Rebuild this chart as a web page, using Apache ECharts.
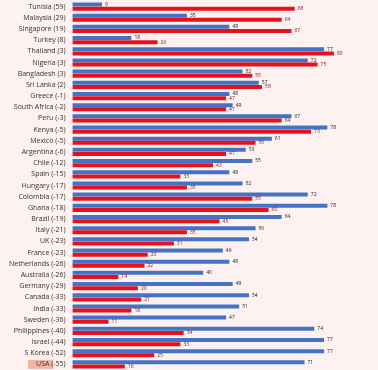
<!DOCTYPE html>
<html><head><meta charset="utf-8">
<script src="https://cdn.jsdelivr.net/npm/echarts@6/dist/echarts.min.js"></script>
<style>html,body{margin:0;padding:0;background:#fdf1f1;}#c{width:378px;height:370px;}</style>
</head><body><div id="c"></div>
<script>
const categories = ["Tunisia (59)","Malaysia (29)","Singapore (19)","Turkey (8)","Thailand (3)","Nigeria (3)","Bangladesh (3)","Sri Lanka (2)","Greece (-1)","South Africa (-2)","Peru (-3)","Kenya (-5)","Mexico (-5)","Argentina (-6)","Chile (-12)","Spain (-15)","Hungary (-17)","Colombia (-17)","Ghana (-18)","Brazil (-19)","Italy (-21)","UK (-23)","France (-23)","Netherlands (-26)","Australia (-26)","Germany (-29)","Canada (-33)","India (-33)","Sweden (-36)","Philippines (-40)","Israel (-44)","S Korea (-52)","USA (-55)"];
const blueValues = [9,35,48,18,77,72,52,57,48,49,67,78,61,53,55,48,52,72,78,64,56,54,46,48,40,49,54,51,47,74,77,77,71];
const redValues = [68,64,67,26,80,75,55,58,47,47,64,73,56,47,43,33,35,55,60,45,35,31,23,22,14,20,21,18,11,34,33,25,16];

const chart = echarts.init(document.getElementById('c'));
chart.setOption({
  backgroundColor: '#fdf1f1',
  animation: false,
  grid: {left: 72.6, right: 0, top: 1, bottom: 0},
  xAxis: {type: 'value', min: 0, max: 93.5, show: false},
  yAxis: {
    type: 'category', data: categories, inverse: true,
    axisLine: {show: false}, axisTick: {show: false},
    axisLabel: {
      margin: 7, fontSize: 7, color: '#333', fontFamily: 'Open Sans',
      formatter: function (v) {
        if (v.indexOf('USA') === 0) return '{hl|USA (}{n|' + v.slice(5) + '}';
        return v;
      },
      rich: {
        hl: {backgroundColor: '#f4b4a4', fontSize: 7, color: '#333', fontFamily: 'Open Sans', padding: [1, 0, 1, 8]},
        n: {fontSize: 7, color: '#333', fontFamily: 'Open Sans'}
      }
    }
  },
  series: [
    {type: 'bar', data: blueValues, barWidth: 4, barGap: '5%', barCategoryGap: '25%',
     itemStyle: {color: '#4472c4'},
     label: {show: true, position: 'right', distance: 3, fontSize: 5, color: '#222', fontFamily: 'Open Sans'}},
    {type: 'bar', data: redValues, barWidth: 4,
     itemStyle: {color: '#e8101a'},
     label: {show: true, position: 'right', distance: 3, fontSize: 5, color: '#8b1010', fontFamily: 'Open Sans'}}
  ]
});
</script></body></html>
